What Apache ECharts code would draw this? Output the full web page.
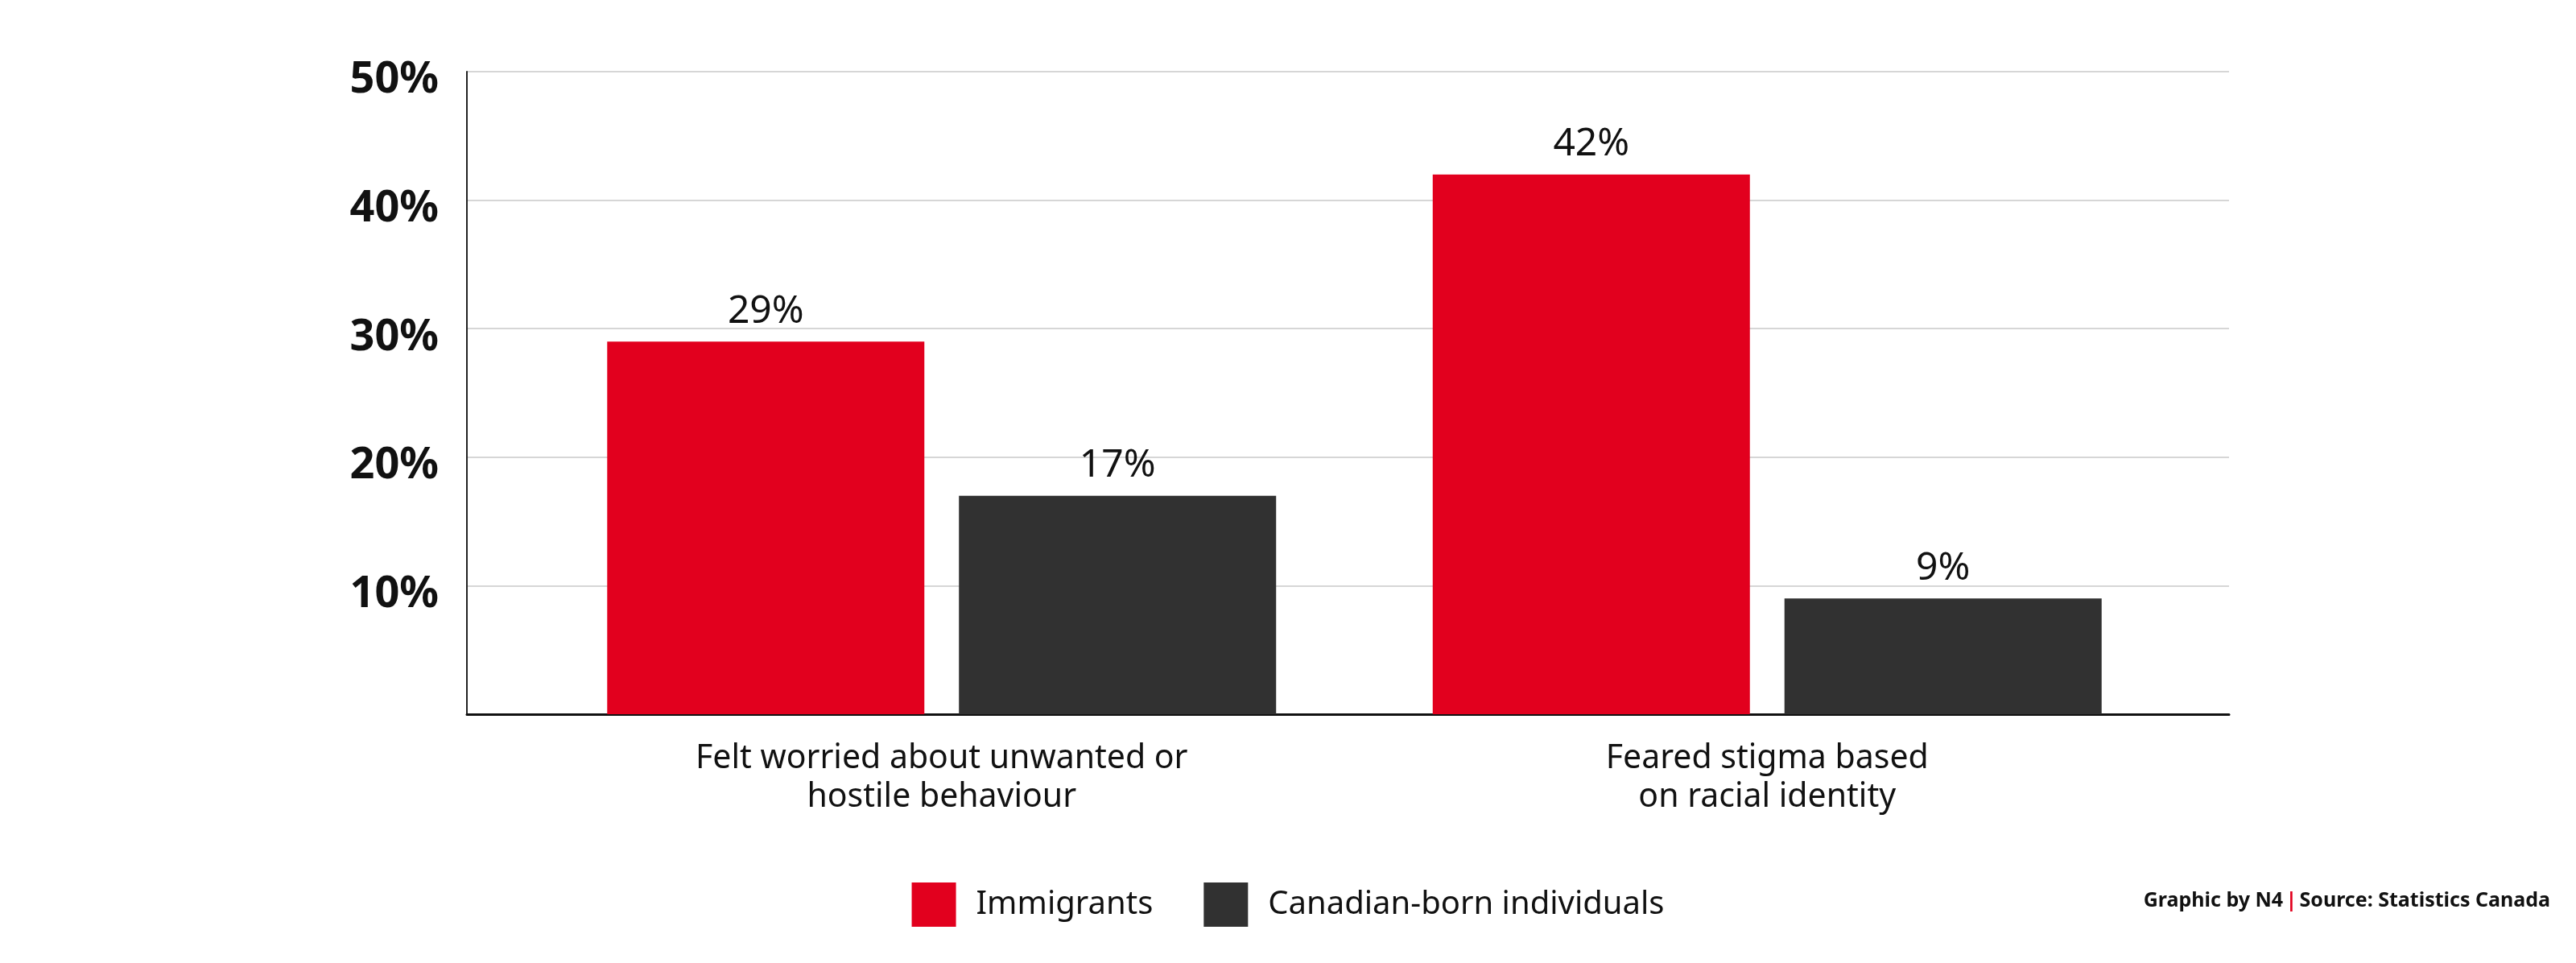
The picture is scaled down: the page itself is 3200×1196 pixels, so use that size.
<!DOCTYPE html>
<html>
<head>
<meta charset="utf-8">
<script src="https://cdn.jsdelivr.net/npm/echarts@6/dist/echarts.min.js"></script>
<style>
html,body{margin:0;padding:0;background:#fff;}
#chart{width:3200px;height:1196px;}
</style>
</head>
<body>
<div id="chart"></div>
<script>
const categories = ['Felt worried about unwanted or\nhostile behaviour', 'Feared stigma based\non racial identity'];
const seriesNames = ['Immigrants', 'Canadian-born individuals'];
const immigrants = [29, 42];
const canadianBorn = [17, 9];
const yTicks = [0, 10, 20, 30, 40, 50];

const RED = '#E2001E';
const DARK = '#313131';
const FONT = '"Noto Sans", sans-serif';

const chart = echarts.init(document.getElementById('chart'), null, {renderer: 'canvas'});
const option = {
  backgroundColor: '#ffffff',
  animation: false,
  grid: [
    {left: 580, right: 431, top: 89, bottom: 309, containLabel: false},
    {left: 657, right: 492, top: 89, bottom: 309, containLabel: false}
  ],
  xAxis: [
    {
      type: 'category', gridIndex: 0, data: categories,
      axisLine: {show: true, lineStyle: {color: '#111', width: 3}},
      axisTick: {show: false}, axisLabel: {show: false}, splitLine: {show: false}
    },
    {
      type: 'category', gridIndex: 1, data: categories,
      axisLine: {show: false}, axisTick: {show: false},
      axisLabel: {
        show: true, margin: 31, color: '#111', fontFamily: FONT, fontSize: 41, lineHeight: 48
      }
    }
  ],
  yAxis: [
    {
      type: 'value', gridIndex: 0, min: yTicks[0], max: yTicks[yTicks.length - 1], interval: 10,
      axisLine: {show: true, lineStyle: {color: '#222', width: 2}},
      axisTick: {show: false},
      splitLine: {show: true, lineStyle: {color: '#d6d6d6', width: 2}},
      axisLabel: {
        margin: 35, color: '#111', fontFamily: FONT, fontWeight: 'bold', fontSize: 54,
        verticalAlign: 'top', lineHeight: 22,
        formatter: v => v === 0 ? '' : v + '%'
      }
    },
    {
      type: 'value', gridIndex: 1, min: yTicks[0], max: yTicks[yTicks.length - 1], interval: 10,
      show: false
    }
  ],
  legend: {
    data: seriesNames,
    left: 'center', top: 1091,
    itemWidth: 55, itemHeight: 55, itemGap: 63,
    icon: 'rect',
    textStyle: {fontFamily: FONT, fontSize: 40, color: '#111', padding: [0, 0, 0, 20]}
  },
  series: [
    {
      name: seriesNames[0], type: 'bar', xAxisIndex: 1, yAxisIndex: 1,
      data: immigrants, barWidth: 394, barGap: '10.9%',
      itemStyle: {color: RED},
      label: {show: true, position: 'top', distance: 13, formatter: '{c}%',
        fontFamily: FONT, fontSize: 48, color: '#111'}
    },
    {
      name: seriesNames[1], type: 'bar', xAxisIndex: 1, yAxisIndex: 1,
      data: canadianBorn, barWidth: 394, barGap: '10.9%',
      itemStyle: {color: DARK},
      label: {show: true, position: 'top', distance: 13, formatter: '{c}%',
        fontFamily: FONT, fontSize: 48, color: '#111'}
    }
  ],
  graphic: [
    {
      type: 'text', right: 32, top: 1106,
      style: {
        text: '{a|Graphic by N4} {r||} {a|Source: Statistics Canada}',
        rich: {
          a: {fontFamily: FONT, fontWeight: 'bold', fontSize: 25, fill: '#111'},
          r: {fontFamily: FONT, fontWeight: 'bold', fontSize: 25, fill: RED}
        }
      }
    }
  ]
};
chart.setOption(option);
</script>
</body>
</html>
